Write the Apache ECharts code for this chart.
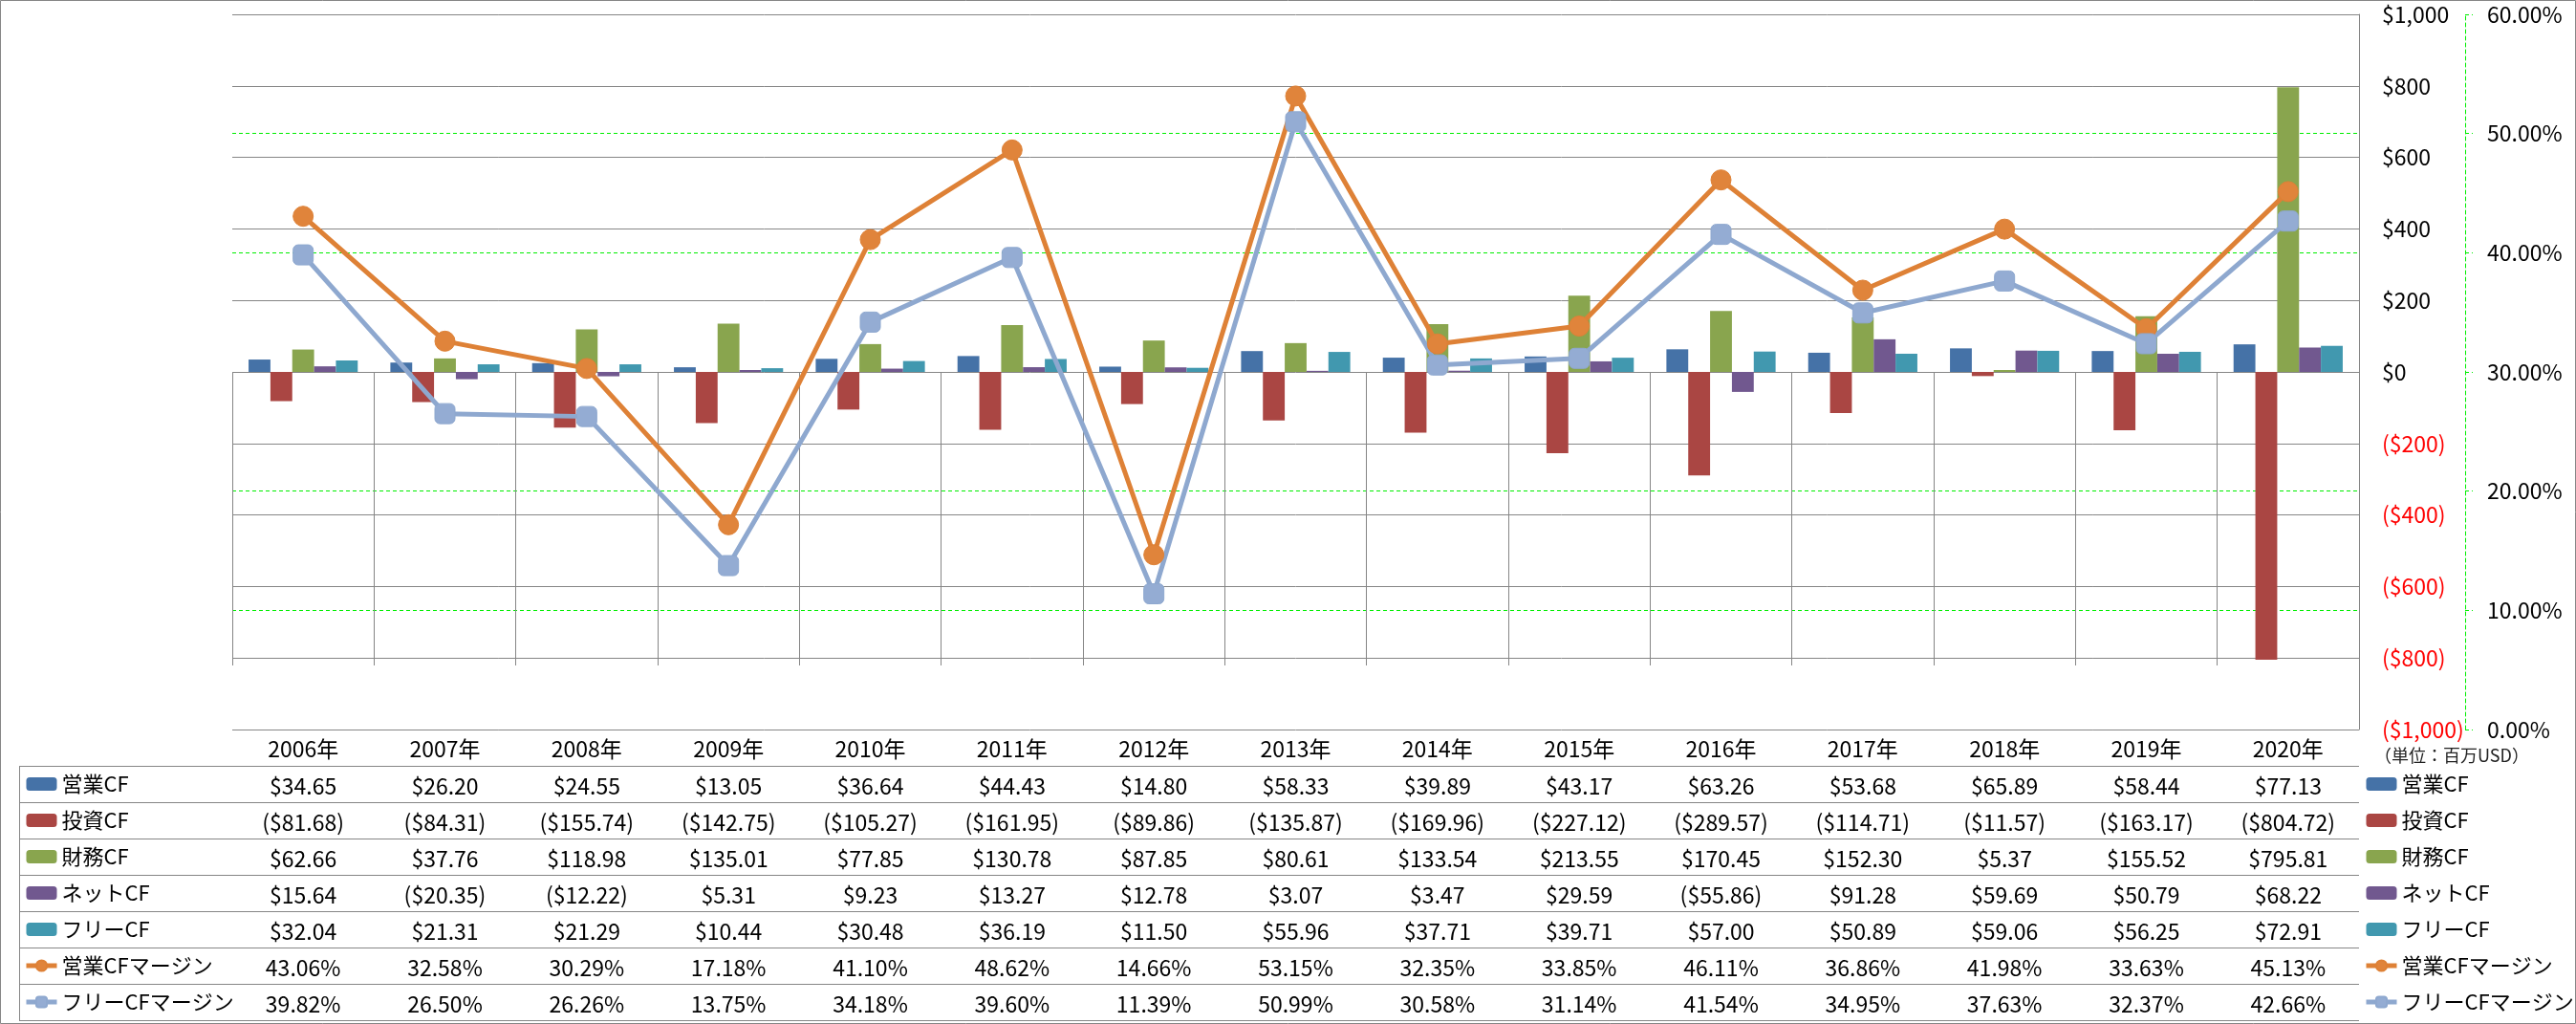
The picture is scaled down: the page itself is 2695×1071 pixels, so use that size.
<!DOCTYPE html>
<html>
<head>
<meta charset="utf-8">
<script src="https://cdn.jsdelivr.net/npm/echarts@6/dist/echarts.min.js"></script>
<style>
html,body{margin:0;padding:0;background:#fff;}
#chart{width:2695px;height:1071px;}
</style>
</head>
<body>
<div id="chart"></div>
<script>
// ---------- data ----------
const categories = ['2006年','2007年','2008年','2009年','2010年','2011年','2012年','2013年','2014年','2015年','2016年','2017年','2018年','2019年','2020年'];
const opCF   = [34.65,26.20,24.55,13.05,36.64,44.43,14.80,58.33,39.89,43.17,63.26,53.68,65.89,58.44,77.13];
const invCF  = [-81.68,-84.31,-155.74,-142.75,-105.27,-161.95,-89.86,-135.87,-169.96,-227.12,-289.57,-114.71,-11.57,-163.17,-804.72];
const finCF  = [62.66,37.76,118.98,135.01,77.85,130.78,87.85,80.61,133.54,213.55,170.45,152.30,5.37,155.52,795.81];
const netCF  = [15.64,-20.35,-12.22,5.31,9.23,13.27,12.78,3.07,3.47,29.59,-55.86,91.28,59.69,50.79,68.22];
const freeCF = [32.04,21.31,21.29,10.44,30.48,36.19,11.50,55.96,37.71,39.71,57.00,50.89,59.06,56.25,72.91];
const opMargin   = [43.06,32.58,30.29,17.18,41.10,48.62,14.66,53.15,32.35,33.85,46.11,36.86,41.98,33.63,45.13];
const freeMargin = [39.82,26.50,26.26,13.75,34.18,39.60,11.39,50.99,30.58,31.14,41.54,34.95,37.63,32.37,42.66];
const seriesNames = ['営業CF','投資CF','財務CF','ネットCF','フリーCF','営業CFマージン','フリーCFマージン'];
const unitLabel = '（単位：百万USD）';

// ---------- layout / style ----------
const W = 2695, H = 1071;
const gridLeft = 243, gridRight = 2468, gridTop = 15, gridBottomY = 763;
const rowH = 38, tableLeft = 20, nRows = 7;
const FONT = "'Noto Sans CJK JP', 'Noto Sans', sans-serif";
const FS = 23;
const LFS = 22;
const gridColor = '#868686';
const green = '#00EE00';
const colors = ['#4572A7','#AA4643','#89A54E','#71588F','#4198AF','#DE8136','#8EA8CF'];

function money(v){
  const s = Math.abs(v).toFixed(2).replace(/\B(?=(\d{3})+(?!\d))/g, ',');
  return v < 0 ? '($' + s + ')' : '$' + s;
}
function moneyAxis(v){
  const s = Math.abs(v).toFixed(0).replace(/\B(?=(\d{3})+(?!\d))/g, ',');
  return v < 0 ? '($' + s + ')' : '$' + s;
}
function pct(v){ return v.toFixed(2) + '%'; }

const rows = [
  opCF.map(money), invCF.map(money), finCF.map(money), netCF.map(money), freeCF.map(money),
  opMargin.map(pct), freeMargin.map(pct)
];

const xAxes = [{
  type:'category', data:categories, gridIndex:0, position:'bottom',
  axisLine:{show:false},
  axisTick:{show:true, interval:0, alignWithLabel:false, length:H-1-gridBottomY, lineStyle:{color:gridColor,width:1}},
  axisLabel:{interval:0, margin:20, verticalAlign:'middle', color:'#000', fontSize:FS, fontFamily:FONT}
}];
rows.forEach((r,k)=>{
  xAxes.push({
    type:'category', data:r, gridIndex:0, position:'bottom', offset:rowH*(k+1),
    axisLine:{show:false}, axisTick:{show:false}, splitLine:{show:false},
    axisLabel:{interval:0, margin:21, verticalAlign:'middle', color:'#000', fontSize:FS, fontFamily:FONT}
  });
});

const graphics = [];
graphics.push({type:'rect', shape:{x:0.5,y:0.5,width:W-1,height:H-1}, style:{fill:null, stroke:gridColor, lineWidth:1}, silent:true});
for(let i=0;i<=nRows;i++){
  const y = gridBottomY + rowH*(i+1) + 0.5;
  graphics.push({type:'line', shape:{x1:tableLeft,y1:y,x2:gridRight,y2:y}, style:{stroke:gridColor,lineWidth:1}, silent:true});
}
graphics.push({type:'line', shape:{x1:tableLeft+0.5,y1:gridBottomY+rowH,x2:tableLeft+0.5,y2:gridBottomY+rowH*(nRows+1)}, style:{stroke:gridColor,lineWidth:1}, silent:true});
graphics.push({type:'text', x:2484, y:790, style:{text:unitLabel, fill:'#222', fontSize:18, fontFamily:FONT, verticalAlign:'middle'}, silent:true});

const barSeries = [opCF, invCF, finCF, netCF, freeCF].map((d,i)=>({
  name: seriesNames[i], type:'bar', data:d, xAxisIndex:0, yAxisIndex:0,
  barGap:'0%', barCategoryGap:'23%', itemStyle:{color:colors[i]}
}));
const lineSeries = [
  {name:seriesNames[5], type:'line', data:opMargin, xAxisIndex:0, yAxisIndex:1,
   symbol:'circle', symbolSize:21, lineStyle:{color:colors[5], width:5},
   itemStyle:{color:'#E0843B', borderColor:colors[5], borderWidth:1}, z:5},
  {name:seriesNames[6], type:'line', data:freeMargin, xAxisIndex:0, yAxisIndex:1,
   symbol:'roundRect', symbolSize:21, lineStyle:{color:colors[6], width:5},
   itemStyle:{color:'#94ACD3', borderColor:colors[6], borderWidth:1}, z:5}
];

const legendBase = {
  orient:'vertical', top: gridBottomY + rowH + rowH/2 - 11, itemWidth:32, itemHeight:14, itemGap:16, padding:0,
  textStyle:{fontSize:LFS, lineHeight:22, color:'#000', fontFamily:FONT},
  lineStyle:{width:'inherit'},
  data: seriesNames
};

const option = {
  backgroundColor:'#fff',
  animation:false,
  textStyle:{fontFamily:FONT},
  graphic: graphics,
  legend: [
    Object.assign({}, legendBase, {left: gridRight + 5}),
    Object.assign({}, legendBase, {left: tableLeft + 5})
  ],
  grid: {left:gridLeft, right:W-gridRight, top:gridTop, height:gridBottomY-gridTop, containLabel:false},
  xAxis: xAxes,
  yAxis: [
    {type:'value', position:'right', min:-1000, max:1000, interval:200,
     axisLine:{show:true, lineStyle:{color:gridColor,width:1}}, axisTick:{show:false},
     splitLine:{show:true, lineStyle:{color:gridColor,width:1}},
     axisLabel:{margin:24, formatter:moneyAxis, fontSize:FS, fontFamily:FONT,
       color:function(v){ return parseFloat(v) < 0 ? '#FF0000' : '#000'; }}},
    {type:'value', position:'right', offset:111, min:0, max:60, interval:10,
     axisLine:{show:true, lineStyle:{color:green, type:[4,3], width:1}},
     axisTick:{show:true, length:8, lineStyle:{color:green, type:[4,3], width:1}},
     splitLine:{show:true, lineStyle:{color:['rgba(0,0,0,0)',green,green,'rgba(0,0,0,0)',green,green,'rgba(0,0,0,0)'], type:[4,3], width:1}},
     axisLabel:{margin:23, formatter:function(v){return Number(v).toFixed(2)+'%';}, color:'#000', fontSize:FS, fontFamily:FONT}}
  ],
  series: barSeries.concat(lineSeries)
};

const chart = echarts.init(document.getElementById('chart'), null, {renderer:'canvas'});
chart.setOption(option);
</script>
</body>
</html>
